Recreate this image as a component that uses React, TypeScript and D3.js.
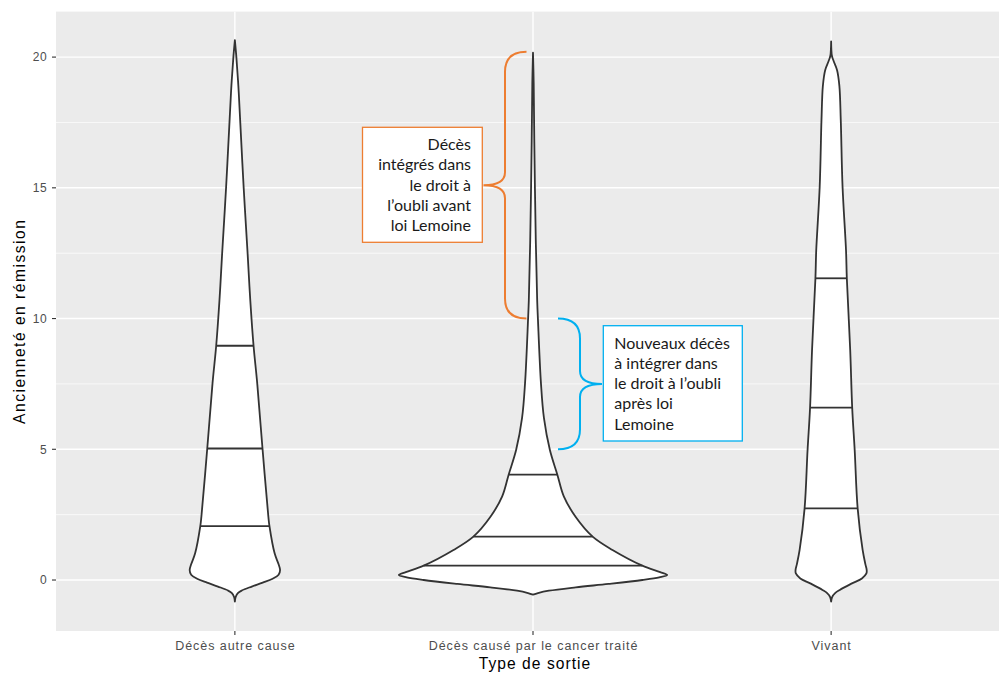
import React from "react";
import * as d3 from "d3";

// Categories on the x axis (type of exit)
const categories = ["Décès autre cause", "Décès causé par le cancer traité", "Vivant"];

// Kernel density profiles: years in remission and the estimated density
const autreCauseY = [-0.83, -0.65, -0.5, -0.4, -0.25, -0.1, 0.05, 0.2, 0.38, 0.6, 1.02, 2.06, 2.42, 5.03, 7.52, 8.96, 10.7, 12.5, 15.04, 17.6, 18.9, 20.0, 20.65];
const autreCauseDensity = [0, 0.008, 0.03, 0.07, 0.17, 0.28, 0.38, 0.44, 0.455, 0.44, 0.4, 0.348, 0.337, 0.278, 0.225, 0.188, 0.155, 0.128, 0.088, 0.053, 0.035, 0.015, 0];

const cancerY = [-0.56, -0.5, -0.41, -0.28, -0.15, 0.0, 0.1, 0.19, 0.3, 0.55, 1.15, 1.66, 2.41, 3.2, 4.03, 4.97, 6.2, 7.53, 9.94, 10.7, 13.0, 16.8, 19.0, 20.17];
const cancerDensity = [0, 0.05, 0.16, 0.43, 0.76, 1.1, 1.27, 1.35, 1.28, 1.1, 0.8, 0.6, 0.43, 0.31, 0.245, 0.17, 0.11, 0.08, 0.05, 0.042, 0.028, 0.013, 0.007, 0];

const vivantY = [-0.83, -0.65, -0.5, -0.38, -0.13, 0.06, 0.25, 0.38, 0.6, 1.15, 2.74, 4.97, 6.59, 8.8, 11.54, 12.6, 15.04, 17.6, 18.9, 19.5, 19.85, 20.05, 20.6];
const vivantDensity = [0, 0.01, 0.04, 0.087, 0.21, 0.31, 0.355, 0.358, 0.345, 0.317, 0.267, 0.237, 0.212, 0.192, 0.158, 0.15, 0.115, 0.097, 0.083, 0.06, 0.025, 0.008, 0];

// Quartiles (25 %, 50 %, 75 %) drawn inside each violin
const autreCauseQuantiles = [2.06, 5.03, 8.96];
const cancerQuantiles = [0.55, 1.66, 4.03];
const vivantQuantiles = [2.74, 6.59, 11.54];

// Axis ticks
const yTicks = [0, 5, 10, 15, 20];
const yMinorTicks = [2.5, 7.5, 12.5, 17.5];
const yDomain = [-1.95, 21.74];

// Annotated ranges along the cancer-death violin
const avantRange = [10, 20.2];
const apresRange = [5, 10];
const avantLines = ["Décès", "intégrés dans", "le droit à", "l’oubli avant", "loi Lemoine"];
const apresLines = ["Nouveaux décès", "à intégrer dans", "le droit à l’oubli", "après loi", "Lemoine"];

const W = 999;
const H = 675;
const panel = { left: 56, right: 1010, top: 11.6, bottom: 631 };
const ORANGE = "#ED7D31";
const BLUE = "#00B0F0";
const AXIS_FONT = "'Liberation Sans', Arial, sans-serif";
const NOTE_FONT = "Lato, 'Open Sans', sans-serif";

function bracePath(xe: number, xs: number, xt: number, yT: number, yB: number, r: number, rm: number) {
  const yM = (yT + yB) / 2;
  return `M${xe},${yT} Q${xs},${yT} ${xs},${yT + r} L${xs},${yM - rm} Q${xs},${yM} ${xt},${yM} Q${xs},${yM} ${xs},${yM + rm} L${xs},${yB - r} Q${xs},${yB} ${xe},${yB}`;
}

export default function App() {
  const x = d3.scalePoint<string>().domain(categories).range([panel.left, panel.right]).padding(0.6);
  const step = x.step();
  const y = d3.scaleLinear().domain(yDomain).range([panel.bottom, panel.top]);

  const series = [
    { cat: categories[0], ys: autreCauseY, ds: autreCauseDensity, q: autreCauseQuantiles },
    { cat: categories[1], ys: cancerY, ds: cancerDensity, q: cancerQuantiles },
    { cat: categories[2], ys: vivantY, ds: vivantDensity, q: vivantQuantiles },
  ];
  const maxDensity = d3.max(series.flatMap((s) => s.ds)) as number;
  const w = d3.scaleLinear().domain([0, maxDensity]).range([0, 0.45 * step]);

  const violins = series.map((s) => {
    const cx = x(s.cat) as number;
    const pts: [number, number][] = s.ys.map((v, i) => [v, s.ds[i]]);
    const area = d3
      .area<[number, number]>()
      .curve(d3.curveCatmullRom.alpha(0.5))
      .y((d) => y(d[0]))
      .x0((d) => cx - w(d[1]))
      .x1((d) => cx + w(d[1]));
    const densityAt = d3.scaleLinear().domain(s.ys).range(s.ds).clamp(true);
    return {
      cx,
      path: area(pts) as string,
      qLines: s.q.map((qv) => ({ y: y(qv), half: w(densityAt(qv)) })),
    };
  });

  const cxCancer = x(categories[1]) as number;
  const orangeBrace = bracePath(cxCancer - 6.5, cxCancer - 28, cxCancer - 49.5, y(avantRange[1]), y(avantRange[0]), 20, 13);
  const blueBrace = bracePath(cxCancer + 25, cxCancer + 47, cxCancer + 69, y(apresRange[1]), y(apresRange[0]), 20, 13);

  return (
    <svg width={W} height={H} style={{ position: "absolute", left: 0, top: 0, background: "#fff" }}>
      <defs>
        <clipPath id="panel-clip">
          <rect x={panel.left} y={panel.top} width={panel.right - panel.left} height={panel.bottom - panel.top} />
        </clipPath>
      </defs>
      <rect x={panel.left} y={panel.top} width={panel.right - panel.left} height={panel.bottom - panel.top} fill="#EBEBEB" />
      <g clipPath="url(#panel-clip)">
        {yMinorTicks.map((t) => (
          <line key={"mn" + t} x1={panel.left} x2={panel.right} y1={y(t)} y2={y(t)} stroke="#fff" strokeWidth={0.7} />
        ))}
        {yTicks.map((t) => (
          <line key={"mj" + t} x1={panel.left} x2={panel.right} y1={y(t)} y2={y(t)} stroke="#fff" strokeWidth={1.4} />
        ))}
        {categories.map((c) => (
          <line key={"vx" + c} x1={x(c)} x2={x(c)} y1={panel.top} y2={panel.bottom} stroke="#fff" strokeWidth={1.4} />
        ))}
        {violins.map((v, i) => (
          <g key={"v" + i}>
            <path d={v.path} fill="#fff" stroke="#333" strokeWidth={1.8} strokeLinejoin="round" />
            {v.qLines.map((q, j) => (
              <line key={j} x1={v.cx - q.half} x2={v.cx + q.half} y1={q.y} y2={q.y} stroke="#333" strokeWidth={1.8} />
            ))}
          </g>
        ))}
      </g>

      {/* y axis */}
      {yTicks.map((t) => (
        <g key={"yt" + t}>
          <line x1={panel.left - 4} x2={panel.left} y1={y(t)} y2={y(t)} stroke="#333" strokeWidth={1.1} />
          <text x={panel.left - 9} y={y(t) + 4.3} textAnchor="end" fontFamily={AXIS_FONT} fontSize={12} fill="#4D4D4D" letterSpacing={0.4}>
            {t}
          </text>
        </g>
      ))}
      <text
        transform={`translate(25, ${(panel.top + panel.bottom) / 2}) rotate(-90)`}
        textAnchor="middle"
        fontFamily={AXIS_FONT}
        fontSize={15.6}
        letterSpacing={1.5}
        fill="#000"
      >
        Ancienneté en rémission
      </text>

      {/* x axis */}
      {categories.map((c) => (
        <g key={"xt" + c}>
          <line x1={x(c)} x2={x(c)} y1={panel.bottom} y2={panel.bottom + 4} stroke="#333" strokeWidth={1.1} />
          <text x={(x(c) as number) + 0.5} y={650} textAnchor="middle" fontFamily={AXIS_FONT} fontSize={12.5} fill="#4D4D4D" letterSpacing={0.95}>
            {c}
          </text>
        </g>
      ))}
      <text x={535} y={668.5} textAnchor="middle" fontFamily={AXIS_FONT} fontSize={15.6} letterSpacing={1.05} fill="#000">
        Type de sortie
      </text>

      {/* annotations */}
      <path d={orangeBrace} fill="none" stroke={ORANGE} strokeWidth={2} />
      <path d={blueBrace} fill="none" stroke={BLUE} strokeWidth={2} />

      <rect x={362.5} y={127.3} width={119.8} height={115} fill="#fff" stroke={ORANGE} strokeWidth={1.3} />
      {avantLines.map((l, i) => (
        <text key={"a" + i} x={471} y={150 + i * 20.3} textAnchor="end" fontFamily={NOTE_FONT} fontSize={16} fill="#1a1a1a">
          {l}
        </text>
      ))}
      <rect x={603.3} y={325.7} width={139} height={115.3} fill="#fff" stroke={BLUE} strokeWidth={1.3} />
      {apresLines.map((l, i) => (
        <text key={"b" + i} x={614.3} y={348.5 + i * 20.3} textAnchor="start" fontFamily={NOTE_FONT} fontSize={16} fill="#1a1a1a">
          {l}
        </text>
      ))}
    </svg>
  );
}
